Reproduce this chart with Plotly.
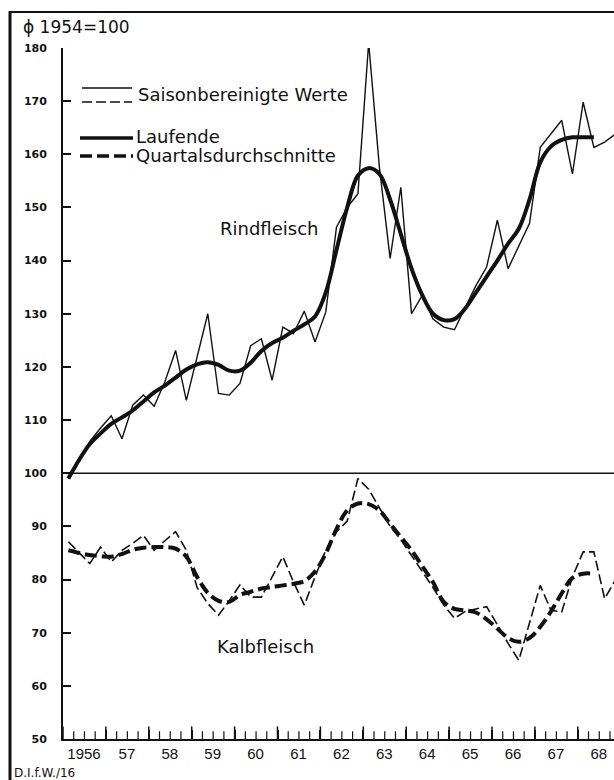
import plotly.graph_objects as go

# ---------------- data ----------------
years = list(range(1956, 1969))
year_labels = ["1956", "57", "58", "59", "60", "61", "62", "63", "64", "65", "66", "67", "68"]
y_ticks = list(range(50, 181, 10))

# Rindfleisch, seasonally adjusted (quarterly, 1956 Q1 - 1968 Q4)
beef_adjusted = [
    99, 102.5, 106, 108.5,
    110.8, 106.5, 112.8, 114.7,
    112.6, 117.2, 123.1, 113.7,
    122, 130, 115, 114.7,
    116.9, 124, 125.3, 117.5,
    127.5, 126.3, 130.5, 124.7,
    130.3, 146.3, 150, 152.6,
    181, 157.6, 140.4, 153.8,
    130, 133.5, 129, 127.5,
    127, 131.3, 135.3, 138.8,
    147.6, 138.5, 142.7, 147,
    161.3, 163.8, 166.4, 156.3,
    169.8, 161.3, 162.3, 163.8,
]
# Rindfleisch, running quarterly average (1956 Q1 - 1968 Q2)
beef_running = [
    99, 102.5, 105.5, 107.5,
    109.3, 110.5, 111.8, 113.5,
    115.2, 116.5, 118, 119.5,
    120.5, 120.9, 120.4, 119.3,
    119.3, 120.8, 123, 124.5,
    125.5, 126.8, 128, 129.5,
    134, 142, 150, 156,
    157.4, 156.3, 151.5, 145,
    138.5, 133.5, 130, 128.8,
    129, 131, 134, 137,
    140, 143.2, 146, 151.5,
    158.5, 161.5, 162.7, 163.2,
    163.2, 163.2,
]
# Kalbfleisch, seasonally adjusted
veal_adjusted = [
    87.1, 85, 83.0, 86.1,
    83.3, 85.5, 86.8, 88.3,
    85.5, 87.3, 89.0, 85.5,
    78.5, 75.5, 73.3, 76,
    79, 76.7, 76.7, 80.5,
    84.3, 79.5, 75.2, 80.5,
    85.5, 89, 91, 99,
    97, 93.5, 90, 87.5,
    84.5, 81.5, 78.5, 75.2,
    72.7, 74, 74.5, 74.9,
    71.5, 68, 64.8, 72,
    78.9, 74.2, 73.9, 80.5,
    85.2, 85.2, 76.4, 79.9,
]
# Kalbfleisch, running quarterly average
veal_running = [
    85.5, 85, 84.6, 84.4,
    84.3, 84.8, 85.6, 86,
    86.1, 86.1, 85.8, 84.3,
    80.5, 77.5, 76, 75.8,
    77.1, 77.7, 78.3, 78.6,
    78.9, 79.2, 79.7, 81.5,
    84.9, 89.5, 93, 94.3,
    94.2, 93, 90.5, 88,
    85.5, 82.5, 79.5, 75.8,
    74.5, 74.2, 73.8, 72.5,
    70.8, 69, 68.3, 69,
    71.1, 74, 77.4, 80.3,
    81.1, 81.1,
]

quarter_x = [y + (q + 0.5) / 4 for y in years for q in range(4)]
quarter_marks = [y + q / 4 for y in years for q in range(1, 4)]

INK = "#111111"
W, H = 614, 780
ML, MR, MT, MB = 63, 0, 48, 41
PW, PH = W - ML - MR, H - MT - MB
PX_PER_YEAR = 42.9
X_END = 1956 + PW / PX_PER_YEAR
Y_MIN, Y_MAX = 50, 180


def px(x):
    return (x - ML) / PW


def py(y):
    return (H - MB - y) / PH


fig = go.Figure()

fig.add_trace(go.Scatter(x=quarter_x, y=beef_adjusted, mode="lines",
                         line=dict(color=INK, width=1.4), showlegend=False))
fig.add_trace(go.Scatter(x=quarter_x[:len(beef_running)], y=beef_running, mode="lines",
                         line=dict(color=INK, width=4, shape="spline", smoothing=1),
                         showlegend=False))
fig.add_trace(go.Scatter(x=quarter_x, y=veal_adjusted, mode="lines",
                         line=dict(color=INK, width=1.6, dash="10px,4px"), showlegend=False))
fig.add_trace(go.Scatter(x=quarter_x[:len(veal_running)], y=veal_running, mode="lines",
                         line=dict(color=INK, width=4, dash="12px,5px", shape="spline", smoothing=1),
                         showlegend=False))

# axis tick marks along the time axis (quarters short, years taller); the lower
# half of each marker is clipped by the plot area so they point upwards
fig.add_trace(go.Scatter(x=quarter_marks, y=[Y_MIN] * len(quarter_marks), mode="markers",
                         marker=dict(symbol="line-ns", size=11, line=dict(width=1.2, color=INK)),
                         hoverinfo="skip", showlegend=False))
fig.add_trace(go.Scatter(x=years, y=[Y_MIN] * len(years), mode="markers",
                         marker=dict(symbol="line-ns", size=18, line=dict(width=1.5, color=INK)),
                         hoverinfo="skip", showlegend=False))

shapes = []
# 100 base line
shapes.append(dict(type="line", xref="paper", yref="y", x0=0, x1=1, y0=100, y1=100,
                   line=dict(color=INK, width=1.6)))
# outer frame (left and top)
shapes.append(dict(type="line", xref="paper", yref="paper", x0=px(10), x1=px(10),
                   y0=py(780), y1=py(11), line=dict(color=INK, width=3)))
shapes.append(dict(type="line", xref="paper", yref="paper", x0=px(10), x1=1,
                   y0=py(12), y1=py(12), line=dict(color=INK, width=2)))
# legend samples
shapes.append(dict(type="line", xref="paper", yref="paper", x0=px(82), x1=px(132),
                   y0=py(88), y1=py(88), line=dict(color=INK, width=1.4)))
shapes.append(dict(type="line", xref="paper", yref="paper", x0=px(82), x1=px(132),
                   y0=py(102), y1=py(102), line=dict(color=INK, width=1.4, dash="10px,4px")))
shapes.append(dict(type="line", xref="paper", yref="paper", x0=px(80), x1=px(133),
                   y0=py(138), y1=py(138), line=dict(color=INK, width=3.5)))
shapes.append(dict(type="line", xref="paper", yref="paper", x0=px(80), x1=px(133),
                   y0=py(156), y1=py(156), line=dict(color=INK, width=3.5, dash="12px,5px")))

TXT = "DejaVu Sans, Liberation Sans, sans-serif"
annotations = [
    dict(text="Saisonbereinigte Werte", x=px(136), y=py(95), xanchor="left", yanchor="middle"),
    dict(text="Laufende", x=px(134), y=py(136), xanchor="left", yanchor="middle"),
    dict(text="Quartalsdurchschnitte", x=px(134), y=py(155), xanchor="left", yanchor="middle"),
    dict(text="Rindfleisch", x=px(269), y=py(228), xanchor="center", yanchor="middle"),
    dict(text="Kalbfleisch", x=px(265), y=py(646), xanchor="center", yanchor="middle"),
]
for a in annotations:
    a.update(xref="paper", yref="paper", showarrow=False, font=dict(family=TXT, size=18, color=INK))
annotations.append(dict(text="ϕ 1954=100", x=px(21), y=py(27), xref="paper", yref="paper",
                        xanchor="left", yanchor="middle", showarrow=False,
                        font=dict(family=TXT, size=17, color=INK)))
annotations.append(dict(text="D.I.f.W./16", x=px(12), y=py(773), xref="paper", yref="paper",
                        xanchor="left", yanchor="middle", showarrow=False,
                        font=dict(family=TXT, size=12, color=INK)))

fig.update_layout(
    width=W, height=H, autosize=False,
    margin=dict(l=ML, r=MR, t=MT, b=MB, pad=0),
    paper_bgcolor="white", plot_bgcolor="white",
    showlegend=False,
    shapes=shapes,
    annotations=annotations,
    xaxis=dict(
        range=[1956, X_END], showgrid=False, zeroline=False,
        showline=True, linecolor=INK, linewidth=1.6,
        tickmode="array", tickvals=years, ticktext=year_labels,
        ticks="inside", ticklen=9, tickwidth=1.5, tickcolor=INK,
        ticklabelshift=int(round(PX_PER_YEAR / 2)),
        tickfont=dict(family="Liberation Sans, sans-serif", size=15, color=INK),
    ),
    yaxis=dict(
        range=[Y_MIN, Y_MAX], showgrid=False, zeroline=False,
        showline=True, linecolor=INK, linewidth=1.8,
        tickmode="array", tickvals=y_ticks, ticks="inside", ticklen=8, tickwidth=1.5,
        tickcolor=INK, ticklabelstandoff=12,
        tickfont=dict(family="DejaVu Sans", size=11, color=INK, weight="bold"),
    ),
)

fig.write_html("out.html", config={"displayModeBar": False},
               post_script="document.body.style.margin='0';document.body.style.overflow='hidden';")
